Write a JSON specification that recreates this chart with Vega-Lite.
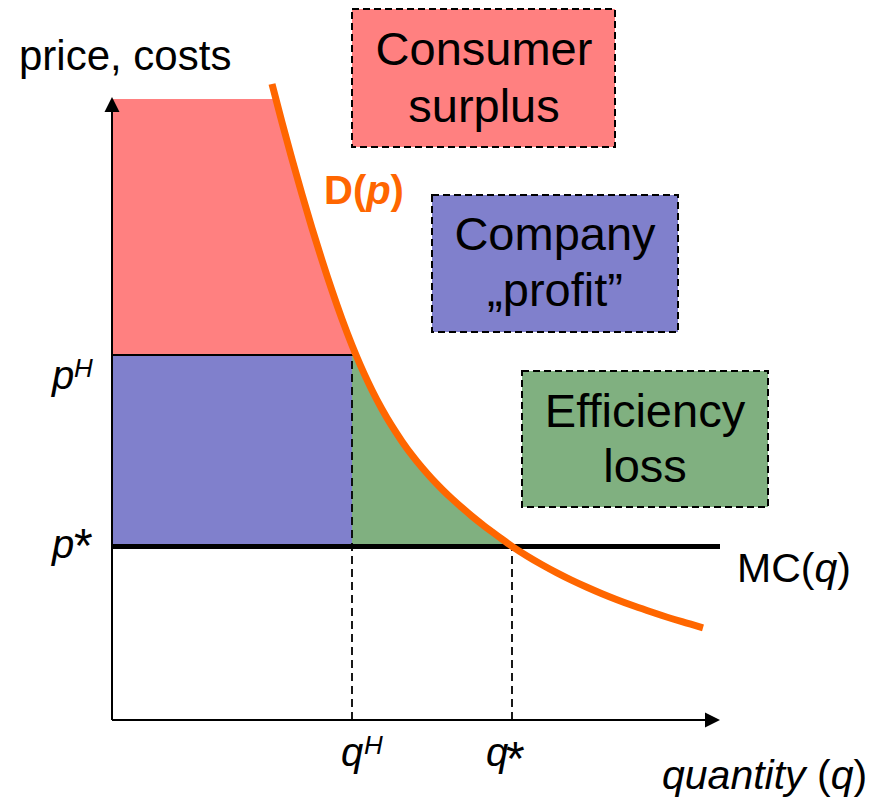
{
  "$schema": "https://vega.github.io/schema/vega-lite/v6.json",
  "width": 887,
  "height": 799,
  "padding": 0,
  "autosize": {"type": "fit", "contains": "padding"},
  "background": "white",
  "config": {"view": {"stroke": null}},
  "encoding": {
    "x": {"field": "x", "type": "quantitative", "scale": {"domain": [-11.2, 77.5], "nice": false, "zero": false}, "axis": null},
    "y": {"field": "y", "type": "quantitative", "stack": null, "scale": {"domain": [-7.9, 72.0], "nice": false, "zero": false}, "axis": null}
  },
  "layer": [
    {
      "data": {"values": [
        {"x": 0, "y": 62.1, "y2": 36.5},
        {"x": 16.38, "y": 62.1, "y2": 36.5},
        {"x": 17.0, "y": 59.76, "y2": 36.5},
        {"x": 18.0, "y": 56.08, "y2": 36.5},
        {"x": 19.0, "y": 52.56, "y2": 36.5},
        {"x": 20.0, "y": 49.18, "y2": 36.5},
        {"x": 21.0, "y": 45.97, "y2": 36.5},
        {"x": 22.0, "y": 42.93, "y2": 36.5},
        {"x": 23.0, "y": 40.09, "y2": 36.5},
        {"x": 24.0, "y": 37.48, "y2": 36.5},
        {"x": 24.4, "y": 36.5, "y2": 36.5}
      ]},
      "mark": {"type": "area", "color": "#ff8080", "interpolate": "linear"},
      "encoding": {"y2": {"field": "y2"}}
    },
    {
      "data": {"values": [{"x": 0, "x2": 24.0, "y": 36.5, "y2": 17.35}]},
      "mark": {"type": "rect", "color": "#8080cc"},
      "encoding": {"x2": {"field": "x2"}, "y2": {"field": "y2"}}
    },
    {
      "data": {"values": [
        {"x": 24.0, "y": 36.5, "y2": 17.35},
        {"x": 24.4, "y": 36.5, "y2": 17.35},
        {"x": 25.2, "y": 34.66, "y2": 17.35},
        {"x": 26.0, "y": 32.98, "y2": 17.35},
        {"x": 27.0, "y": 31.08, "y2": 17.35},
        {"x": 28.0, "y": 29.38, "y2": 17.35},
        {"x": 29.0, "y": 27.86, "y2": 17.35},
        {"x": 30.0, "y": 26.48, "y2": 17.35},
        {"x": 31.0, "y": 25.24, "y2": 17.35},
        {"x": 32.0, "y": 24.11, "y2": 17.35},
        {"x": 33.0, "y": 23.08, "y2": 17.35},
        {"x": 34.0, "y": 22.12, "y2": 17.35},
        {"x": 35.0, "y": 21.23, "y2": 17.35},
        {"x": 36.0, "y": 20.38, "y2": 17.35},
        {"x": 37.0, "y": 19.58, "y2": 17.35},
        {"x": 38.0, "y": 18.82, "y2": 17.35},
        {"x": 39.0, "y": 18.08, "y2": 17.35},
        {"x": 40.0, "y": 17.37, "y2": 17.35}
      ]},
      "mark": {"type": "area", "color": "#80b080", "interpolate": "linear"},
      "encoding": {"y2": {"field": "y2"}}
    },
    {
      "data": {"values": [{"x": 0, "x2": 24.0, "y": 36.5}]},
      "mark": {"type": "rule", "color": "black", "strokeWidth": 2},
      "encoding": {"x2": {"field": "x2"}}
    },
    {
      "data": {"values": [{"x": 24.0, "y": 0, "y2": 36.5}, {"x": 40.0, "y": 0, "y2": 17.35}]},
      "mark": {"type": "rule", "color": "black", "strokeWidth": 1.8, "strokeDash": [8, 5]},
      "encoding": {"y2": {"field": "y2"}}
    },
    {
      "data": {"values": [{"x": 0, "y": 0, "x2": 0, "y2": 61.5}, {"x": 0, "y": 0, "x2": 59.4, "y2": 0}]},
      "mark": {"type": "rule", "color": "black", "strokeWidth": 2},
      "encoding": {"x2": {"field": "x2"}, "y2": {"field": "y2"}}
    },
    {
      "data": {"values": [{"x": 0, "x2": 60.8, "y": 17.35}]},
      "mark": {"type": "rule", "color": "black", "strokeWidth": 5},
      "encoding": {"x2": {"field": "x2"}}
    },
    {
      "data": {"values": [{"x": 0, "y": 61.55}]},
      "mark": {"type": "point", "shape": "M0,-1L1,1L-1,1Z", "size": 225, "filled": true, "color": "black", "opacity": 1, "strokeWidth": 0},
      "encoding": {}
    },
    {
      "data": {"values": [{"x": 60.05, "y": 0}]},
      "mark": {"type": "point", "shape": "M1,0L-1,-1L-1,1Z", "size": 225, "filled": true, "color": "black", "opacity": 1, "strokeWidth": 0},
      "encoding": {}
    },
    {
      "data": {"values": [
        {"x": 16.0, "y": 63.6},
        {"x": 17.0, "y": 59.76},
        {"x": 18.0, "y": 56.08},
        {"x": 19.0, "y": 52.56},
        {"x": 20.0, "y": 49.18},
        {"x": 21.0, "y": 45.97},
        {"x": 22.0, "y": 42.93},
        {"x": 23.0, "y": 40.09},
        {"x": 24.0, "y": 37.48},
        {"x": 24.4, "y": 36.5},
        {"x": 25.2, "y": 34.66},
        {"x": 26.0, "y": 32.98},
        {"x": 27.0, "y": 31.08},
        {"x": 28.0, "y": 29.38},
        {"x": 29.0, "y": 27.86},
        {"x": 30.0, "y": 26.48},
        {"x": 31.0, "y": 25.24},
        {"x": 32.0, "y": 24.11},
        {"x": 33.0, "y": 23.08},
        {"x": 34.0, "y": 22.12},
        {"x": 35.0, "y": 21.23},
        {"x": 36.0, "y": 20.38},
        {"x": 37.0, "y": 19.58},
        {"x": 38.0, "y": 18.82},
        {"x": 39.0, "y": 18.08},
        {"x": 40.0, "y": 17.37},
        {"x": 41.5, "y": 16.41},
        {"x": 43.0, "y": 15.53},
        {"x": 44.5, "y": 14.72},
        {"x": 46.0, "y": 13.97},
        {"x": 47.5, "y": 13.28},
        {"x": 49.0, "y": 12.63},
        {"x": 50.5, "y": 12.03},
        {"x": 52.0, "y": 11.47},
        {"x": 53.5, "y": 10.95},
        {"x": 55.0, "y": 10.45},
        {"x": 57.0, "y": 9.83},
        {"x": 59.1, "y": 9.22}
      ]},
      "mark": {"type": "line", "color": "#ff6600", "strokeWidth": 7, "interpolate": "monotone", "strokeCap": "butt"},
      "encoding": {}
    },
    {
      "data": {"values": [
        {"box": "cs", "x": 24.0, "x2": 50.3, "y": 71.1, "y2": 57.3},
        {"box": "profit", "x": 32.0, "x2": 56.6, "y": 52.5, "y2": 38.8},
        {"box": "loss", "x": 41.0, "x2": 65.6, "y": 34.9, "y2": 21.3}
      ]},
      "mark": {"type": "rect", "stroke": "black", "strokeWidth": 2, "strokeDash": [7, 4], "opacity": 1},
      "encoding": {
        "x2": {"field": "x2"},
        "y2": {"field": "y2"},
        "fill": {"field": "box", "type": "nominal", "scale": {"domain": ["cs", "profit", "loss"], "range": ["#ff8080", "#8080cc", "#80b080"]}, "legend": null}
      }
    },
    {
      "data": {"values": [
        {"x": 37.2, "y": 65.5, "t": "Consumer"},
        {"x": 37.2, "y": 59.8, "t": "surplus"},
        {"x": 44.3, "y": 47.0, "t": "Company"},
        {"x": 44.3, "y": 41.4, "t": "„profit”"},
        {"x": 53.3, "y": 29.3, "t": "Efficiency"},
        {"x": 53.3, "y": 23.8, "t": "loss"}
      ]},
      "mark": {"type": "text", "font": "Liberation Sans", "fontSize": 47, "align": "center", "baseline": "alphabetic", "color": "black"},
      "encoding": {"text": {"field": "t"}}
    },
    {
      "data": {"values": [{"x": -9.3, "y": 65.0, "t": "price, costs"}]},
      "mark": {"type": "text", "font": "Liberation Sans", "fontSize": 42, "align": "left", "baseline": "alphabetic", "color": "black"},
      "encoding": {"text": {"field": "t"}}
    },
    {
      "data": {"values": [
        {"x": 62.5, "y": 13.8, "t": "MC("},
        {"x": 72.52, "y": 13.8, "t": ")"},
        {"x": 70.5, "y": -6.9, "t": "("},
        {"x": 74.15, "y": -6.9, "t": ")"}
      ]},
      "mark": {"type": "text", "font": "Liberation Sans", "fontSize": 41, "align": "left", "baseline": "alphabetic", "color": "black"},
      "encoding": {"text": {"field": "t"}}
    },
    {
      "data": {"values": [
        {"x": 70.24, "y": 13.8, "t": "q"},
        {"x": 55.0, "y": -6.9, "t": "quantity"},
        {"x": 71.87, "y": -6.9, "t": "q"}
      ]},
      "mark": {"type": "text", "font": "Liberation Sans", "fontSize": 41, "fontStyle": "italic", "align": "left", "baseline": "alphabetic", "color": "black"},
      "encoding": {"text": {"field": "t"}}
    },
    {
      "data": {"values": [
        {"x": -6.0, "y": 33.15, "t": "p"},
        {"x": -6.0, "y": 16.2, "t": "p"},
        {"x": 22.9, "y": -4.6, "t": "q"},
        {"x": 37.4, "y": -4.6, "t": "q"}
      ]},
      "mark": {"type": "text", "font": "Liberation Sans", "fontSize": 40, "fontStyle": "italic", "align": "left", "baseline": "alphabetic", "color": "black"},
      "encoding": {"text": {"field": "t"}}
    },
    {
      "data": {"values": [
        {"x": -3.8, "y": 34.27, "t": "H"},
        {"x": 25.2, "y": -3.4, "t": "H"}
      ]},
      "mark": {"type": "text", "font": "Liberation Sans", "fontSize": 26, "fontStyle": "italic", "align": "left", "baseline": "alphabetic", "color": "black"},
      "encoding": {"text": {"field": "t"}}
    },
    {
      "data": {"values": [
        {"x": -3.8, "y": 15.8, "t": "*"},
        {"x": 39.4, "y": -5.5, "t": "*"}
      ]},
      "mark": {"type": "text", "font": "Liberation Sans", "fontSize": 48, "align": "left", "baseline": "alphabetic", "color": "black"},
      "encoding": {"text": {"field": "t"}}
    },
    {
      "data": {"values": [
        {"x": 21.2, "y": 51.6, "t": "D("},
        {"x": 27.86, "y": 51.6, "t": ")"}
      ]},
      "mark": {"type": "text", "font": "Liberation Sans", "fontSize": 40, "fontWeight": "bold", "align": "left", "baseline": "alphabetic", "color": "#ff6600"},
      "encoding": {"text": {"field": "t"}}
    },
    {
      "data": {"values": [{"x": 25.42, "y": 51.6, "t": "p"}]},
      "mark": {"type": "text", "font": "Liberation Sans", "fontSize": 40, "fontWeight": "bold", "fontStyle": "italic", "align": "left", "baseline": "alphabetic", "color": "#ff6600"},
      "encoding": {"text": {"field": "t"}}
    }
  ]
}
